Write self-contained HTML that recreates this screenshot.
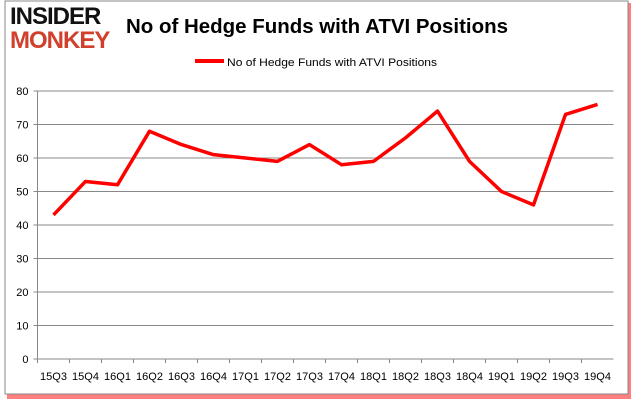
<!DOCTYPE html>
<html><head><meta charset="utf-8"><style>
body{margin:0;background:#fff;font-family:"Liberation Sans",sans-serif}
#wrap{position:relative;width:634px;height:404px;overflow:hidden}
</style></head><body>
<div id="wrap">
<svg width="634" height="404">
<rect x="7" y="3" width="624" height="396" fill="#f00" opacity="0.5"/>
<rect x="5" y="1" width="623" height="393" fill="#fff" stroke="#888"/>
<text x="10" y="24" font-size="24" font-weight="bold" font-family="Liberation Sans" fill="#111" letter-spacing="-1">INSIDER</text>
<text x="10" y="48" font-size="24" font-weight="bold" font-family="Liberation Sans" fill="#d0402c" letter-spacing="-1">MONKEY</text>
<text x="126" y="33" font-size="20" font-weight="bold" textLength="382" lengthAdjust="spacingAndGlyphs" fill="#000">No of Hedge Funds with ATVI Positions</text>
<line x1="195" y1="61" x2="224" y2="61" stroke="#f00" stroke-width="4"/>
<text x="227" y="66" font-size="11" textLength="210" lengthAdjust="spacingAndGlyphs" fill="#000">No of Hedge Funds with ATVI Positions</text>
<g id="grid"></g><g id="axes"></g><g id="series"></g>
</svg></div>
<script>
const categories=["15Q3","15Q4","16Q1","16Q2","16Q3","16Q4","17Q1","17Q2","17Q3","17Q4","18Q1","18Q2","18Q3","18Q4","19Q1","19Q2","19Q3","19Q4"];
const values=[43,53,52,68,64,61,60,59,64,58,59,66,74,59,50,46,73,76];
const yTicks=[0,10,20,30,40,50,60,70,80];
const NS="http://www.w3.org/2000/svg";
const x0=37.5,x1=613.5,y0=359,y1=91;
const step=(x1-x0)/categories.length;
const xs=i=>x0+step*(i+0.5);
const ys=v=>y0-(v/80)*(y0-y1);
function mk(t,a,p){const e=document.createElementNS(NS,t);for(const k in a)e.setAttribute(k,a[k]);p.appendChild(e);return e;}
const grid=document.getElementById('grid'),axes=document.getElementById('axes'),series=document.getElementById('series');
yTicks.forEach(v=>{
 const l=mk('line',{x1:x0-4,x2:x1,y1:ys(v),y2:ys(v),stroke:'#888','stroke-width':1},grid);
 
 
 const t=mk('text',{x:x0-9,y:ys(v)+4,'font-size':11,'text-anchor':'end',fill:'#000'},axes);
 t.textContent=v;
 
 
});
const ax=mk('line',{x1:x0,x2:x0,y1:y1,y2:y0,stroke:'#888'},axes);


categories.forEach((c,i)=>{
 const tk=mk('line',{x1:x0+step*i,x2:x0+step*i,y1:y0,y2:y0+4,stroke:'#888'},axes);
 
 
 const t=mk('text',{x:xs(i),y:y0+21,'font-size':11,'text-anchor':'middle',fill:'#000'},axes);
 t.textContent=c;
 
 
});
const p=mk('polyline',{points:values.map((v,i)=>xs(i)+','+ys(v)).join(' '),fill:'none',stroke:'#f00','stroke-width':3.5,'stroke-linejoin':'round'},series);


</script>
</body></html>
